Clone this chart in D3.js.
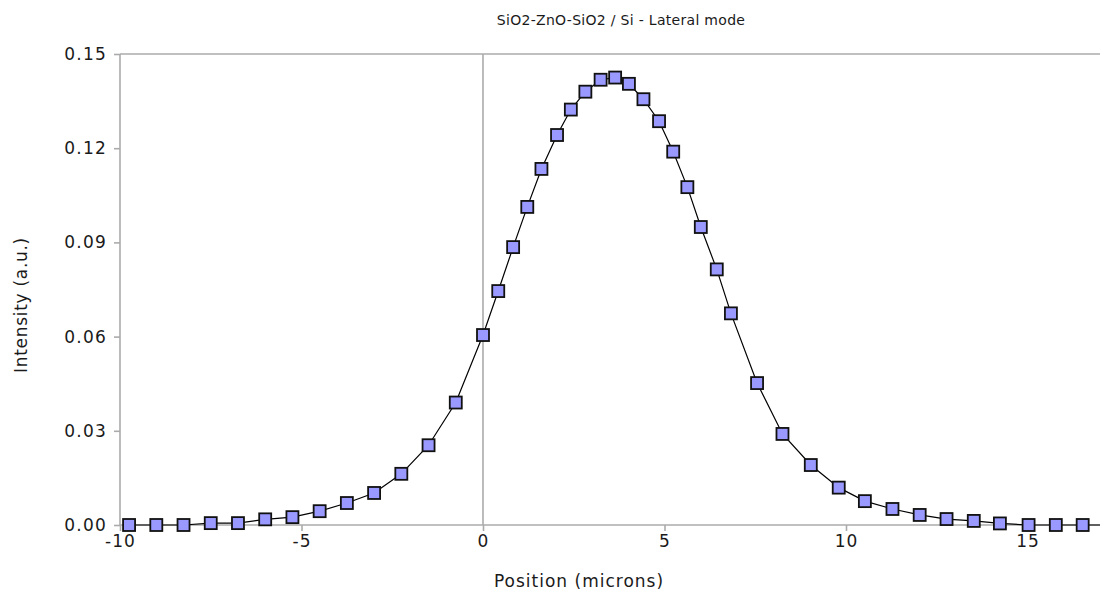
<!DOCTYPE html>
<html>
<head>
<meta charset="utf-8">
<script src="https://cdn.jsdelivr.net/npm/d3@7"></script>
<style>
  html, body { margin: 0; padding: 0; background: #fff; }
  svg { display: block; font-family: "DejaVu Sans", Verdana, sans-serif; }
</style>
</head>
<body>
<svg id="chart" width="1100" height="603"></svg>
<script>
// Lateral mode profile: intensity vs. position
const positions = [-9.75, -9.0, -8.25, -7.5, -6.75, -6.0, -5.25, -4.5, -3.75, -3.0, -2.25, -1.5, -0.75,
  0, 0.42, 0.83, 1.22, 1.61, 2.04, 2.42, 2.82, 3.24, 3.64, 4.02, 4.42, 4.85, 5.24, 5.63, 6.0, 6.44, 6.83,
  7.55, 8.25, 9.03, 9.8, 10.52, 11.28, 12.03, 12.77, 13.52, 14.24, 15.03, 15.78, 16.52, 17.27];
const intensity = [0, 0, 0, 0.0006, 0.0006, 0.0018, 0.0025, 0.0044, 0.0070, 0.0102, 0.0163, 0.0254, 0.0390,
  0.0605, 0.0745, 0.0885, 0.1013, 0.1134, 0.1242, 0.1323, 0.1380, 0.1418, 0.1425, 0.1405, 0.1356, 0.1286,
  0.1189, 0.1076, 0.0949, 0.0814, 0.0674, 0.0452, 0.0290, 0.0191, 0.0119, 0.0076, 0.0051, 0.0032, 0.0019,
  0.0013, 0.0005, 0, 0, 0, 0];
const xTicks = [-10, -5, 0, 5, 10, 15];
const yTicks = [0, 0.03, 0.06, 0.09, 0.12, 0.15];

const title = "SiO2-ZnO-SiO2 / Si - Lateral mode";
const xTitle = "Position (microns)";
const yTitle = "Intensity (a.u.)";

const svg = d3.select("#chart");
const W = 1100, H = 603;
const mLeft = 120, mTop = 54, mBottom = 525;

const x = d3.scaleLinear().domain([-10, 17]).range([mLeft, mLeft + 27 * 36.3]);
const y = d3.scaleLinear().domain([0, 0.15]).range([mBottom, mTop]);

const axisColor = "#ababab";
const textColor = "#1a1a1a";
const labelFont = "'DejaVu Sans', Verdana, sans-serif";

// frame lines
const frame = svg.append("g").attr("stroke", axisColor).attr("stroke-width", 1.6).attr("fill", "none");
frame.append("line").attr("x1", mLeft).attr("x2", W).attr("y1", mTop).attr("y2", mTop);
frame.append("line").attr("x1", mLeft).attr("x2", W).attr("y1", mBottom).attr("y2", mBottom);
frame.append("line").attr("x1", mLeft).attr("x2", mLeft).attr("y1", mTop).attr("y2", mBottom);
// zero position line
frame.append("line").attr("x1", x(0)).attr("x2", x(0)).attr("y1", mTop).attr("y2", mBottom);

// x axis (plain hyphen for negatives)
const xAxis = svg.append("g")
  .attr("transform", `translate(0,${mBottom})`)
  .call(d3.axisBottom(x).tickValues(xTicks).tickSize(6).tickPadding(4).tickFormat(d => String(d)));
xAxis.select(".domain").remove();
xAxis.selectAll(".tick line").attr("stroke", axisColor).attr("stroke-width", 1.6);
xAxis.selectAll(".tick text").attr("fill", textColor).style("font-size", "17px")
  .style("letter-spacing", "1px").style("font-family", labelFont);

// y axis
const yAxis = svg.append("g")
  .attr("transform", `translate(${mLeft},0)`)
  .call(d3.axisLeft(y).tickValues(yTicks).tickSize(6).tickPadding(7).tickFormat(d => d.toFixed(2)));
yAxis.select(".domain").remove();
yAxis.selectAll(".tick line").attr("stroke", axisColor).attr("stroke-width", 1.6);
yAxis.selectAll(".tick text").attr("fill", textColor).style("font-size", "17px")
  .style("letter-spacing", "1.2px").style("font-family", labelFont);

// titles
svg.append("text").attr("x", 621).attr("y", 25).attr("text-anchor", "middle")
  .attr("fill", textColor).style("font-size", "14px").style("letter-spacing", "0.3px").text(title);
svg.append("text").attr("x", 579).attr("y", 587).attr("text-anchor", "middle")
  .attr("fill", textColor).style("font-size", "17px").style("letter-spacing", "1px").text(xTitle);
svg.append("text").attr("transform", "translate(27,305) rotate(-90)").attr("text-anchor", "middle")
  .attr("fill", textColor).style("font-size", "17px").style("letter-spacing", "0.7px").text(yTitle);

// data line and markers
const pts = positions.map((p, i) => ({ p, v: intensity[i] }));
const plot = svg.append("g");
plot.append("path").datum(pts)
  .attr("fill", "none").attr("stroke", "#000").attr("stroke-width", 1.2)
  .attr("d", d3.line().x(d => x(d.p)).y(d => y(d.v)));
const s = 12;
plot.selectAll("rect.pt").data(pts).join("rect")
  .attr("class", "pt")
  .attr("x", d => x(d.p) - s / 2).attr("y", d => y(d.v) - s / 2)
  .attr("width", s).attr("height", s)
  .attr("fill", "#9999ff").attr("stroke", "#111").attr("stroke-width", 1.8);
</script>
</body>
</html>
